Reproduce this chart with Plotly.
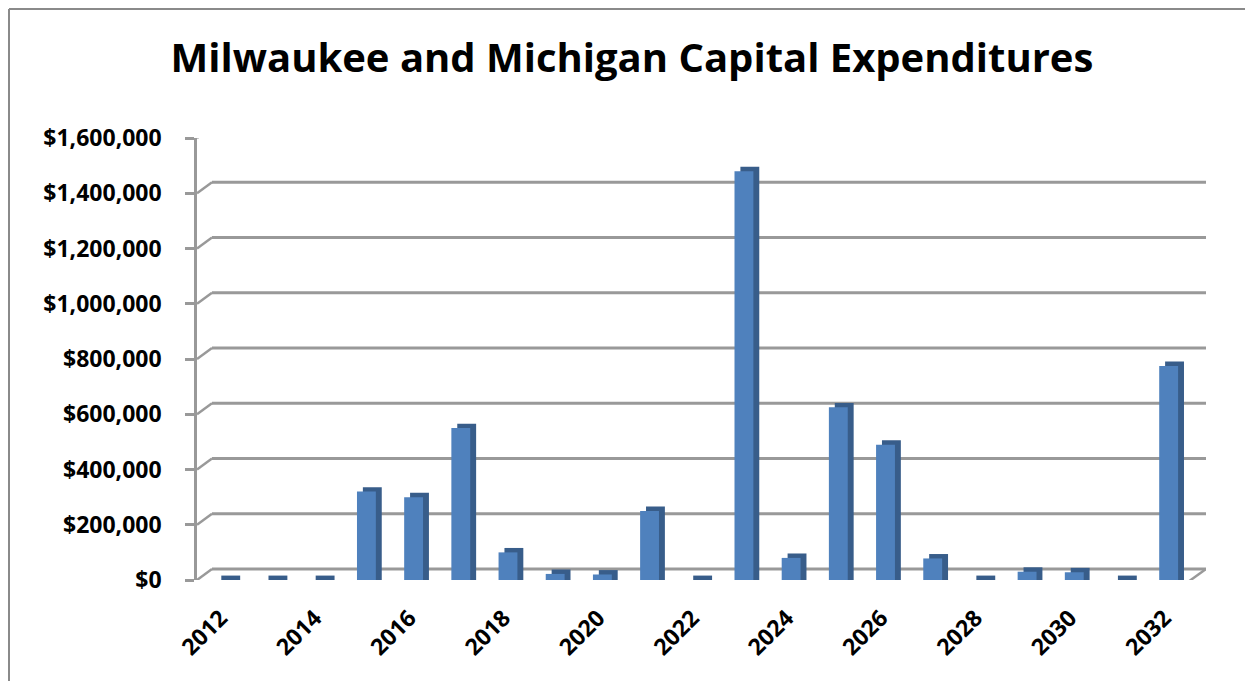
import plotly.graph_objects as go

# ---------------- data ----------------
years = list(range(2012, 2033))
spending = [0, 0, 0, 320000, 300000, 550000, 100000, 22000, 20000, 250000, 0,
            1480000, 80000, 625000, 490000, 78000, 0, 30000, 28000, 0, 775000]
y_ticks = [0, 200000, 400000, 600000, 800000, 1000000, 1200000, 1400000, 1600000]
y_tick_labels = ["$0", "$200,000", "$400,000", "$600,000", "$800,000",
                 "$1,000,000", "$1,200,000", "$1,400,000", "$1,600,000"]
x_label_years = years[::2]
title_text = "Milwaukee and Michigan Capital Expenditures"

# ---------------- style ----------------
PAGE_W, PAGE_H = 1253, 681
BODY = 8                                  # browser default body margin
W, H = PAGE_W - BODY, PAGE_H - BODY
L, T = 197 - BODY, 138 - BODY
R = W - (1206 - BODY)
B = H - (580 - BODY)
FONT = "Open Sans"
FRONT = "#4F81BD"
SIDE = "#385D8A"
GRID = "#999999"
DEPTH_PX_X, DEPTH_PX_Y = 15, 11          # perspective of the back wall
BAR_DX = 0.125                           # bar side-face depth (years)
BAR_DY = 16000                           # bar top-cap depth (value units)
FACE_OFF, FACE_W = -0.11, 0.40

x_lo = years[0] - 0.5
x_front_hi = years[-1] + 0.5
px_per_year = (W - L - R - 18) / (x_front_hi - x_lo)
x_hi = x_front_hi + 18 / px_per_year

fig = go.Figure()
# side/top faces (darker), drawn behind the front faces
fig.add_trace(go.Bar(x=years, y=[v + BAR_DY for v in spending],
                     offset=FACE_OFF + BAR_DX, width=FACE_W,
                     marker=dict(color=SIDE, line=dict(width=0)),
                     hoverinfo="skip"))
# front faces
fig.add_trace(go.Bar(x=years, y=spending, offset=FACE_OFF, width=FACE_W,
                     marker=dict(color=FRONT, line=dict(width=0))))

shapes = []
# back-wall gridlines and their diagonal connectors to the front axis
for v in y_ticks:
    shapes.append(dict(type="line", xref="x", yref="y", layer="below",
                       ysizemode="pixel", yanchor=v, y0=DEPTH_PX_Y, y1=DEPTH_PX_Y,
                       x0=x_lo + DEPTH_PX_X / px_per_year, x1=x_hi,
                       line=dict(color=GRID, width=2.8)))
    shapes.append(dict(type="line", xref="x", yref="y", layer="below",
                       xsizemode="pixel", xanchor=x_lo, x0=0, x1=DEPTH_PX_X,
                       ysizemode="pixel", yanchor=v, y0=0, y1=DEPTH_PX_Y,
                       line=dict(color=GRID, width=2.5)))
# floor front edge and right diagonal
shapes.append(dict(type="line", xref="x", yref="y", layer="below",
                   ysizemode="pixel", yanchor=0, y0=-2, y1=-2,
                   x0=x_lo, x1=x_front_hi, line=dict(color=GRID, width=2.5)))
shapes.append(dict(type="line", xref="x", yref="y", layer="below",
                   xsizemode="pixel", xanchor=x_front_hi, x0=0, x1=18,
                   ysizemode="pixel", yanchor=0, y0=-2, y1=DEPTH_PX_Y,
                   line=dict(color=GRID, width=2.5)))
# category boundary ticks
for b in [y - 0.5 for y in years] + [years[-1] + 0.5]:
    shapes.append(dict(type="line", xref="x", yref="y",
                       ysizemode="pixel", yanchor=0, y0=-2, y1=-11,
                       x0=b, x1=b, line=dict(color=GRID, width=2.5)))
# chart border (top and left edges)
shapes.append(dict(type="line", xref="paper", yref="paper",
                   xsizemode="pixel", xanchor=0, x0=1 - L, x1=W - L,
                   ysizemode="pixel", yanchor=1, y0=T - 1, y1=T - 1,
                   line=dict(color="#8A8A8A", width=2)))
shapes.append(dict(type="line", xref="paper", yref="paper",
                   xsizemode="pixel", xanchor=0, x0=1 - L, x1=1 - L,
                   ysizemode="pixel", yanchor=1, y0=T - 1, y1=T - H - 5,
                   line=dict(color="#8A8A8A", width=2)))

fig.update_layout(
    width=W, height=H,
    margin=dict(l=L, r=R, t=T, b=B),
    paper_bgcolor="white", plot_bgcolor="white",
    barmode="overlay", showlegend=False,
    title=dict(text=title_text, xref="container", yref="container",
               x=(632 - BODY) / W, y=1 - (58 - BODY) / H,
               xanchor="center", yanchor="middle",
               font=dict(family=FONT, size=40, color="black", weight="bold")),
    xaxis=dict(range=[x_lo, x_hi], tickvals=x_label_years,
               ticktext=[str(y) for y in x_label_years], tickangle=-45,
               showgrid=False, zeroline=False, showline=False, ticks="",
               ticklabelstandoff=19,
               tickfont=dict(family=FONT, size=23, color="black", weight="bold")),
    yaxis=dict(range=[0, 1600000], tickvals=y_ticks, ticktext=y_tick_labels,
               showgrid=False, zeroline=False, showline=True,
               linecolor=GRID, linewidth=2.5, ticks="outside", ticklen=9,
               tickcolor=GRID, tickwidth=2.5, ticklabelstandoff=19,
               tickfont=dict(family=FONT, size=23, color="black", weight="bold")),
    shapes=shapes,
)

fig.write_html("out.html")
